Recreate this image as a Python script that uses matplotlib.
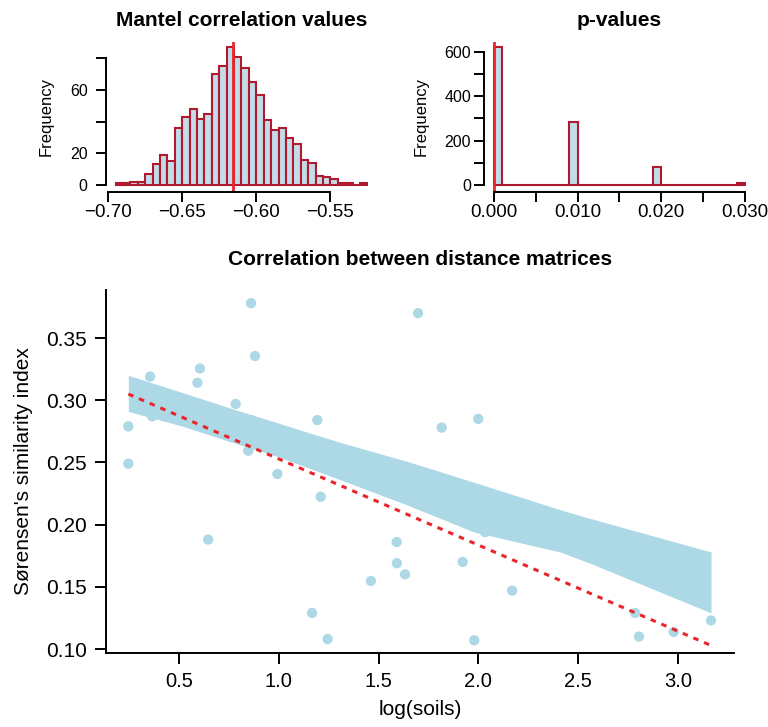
import numpy as np
import matplotlib.pyplot as plt

plt.rcParams['font.family'] = ['Liberation Sans', 'DejaVu Sans']

# histogram of Mantel r from the resamples (bins of 0.005 starting at -0.695)
mantel_start = -0.695
mantel_width = 0.005
mantel_counts = [1, 1, 2, 2, 7, 13, 19, 15, 36, 43, 48, 42, 45, 70, 75, 87, 81,
                 74, 65, 57, 41, 35, 36, 30, 26, 16, 14, 6, 5, 4, 1, 1, 0, 1]
mantel_obs = -0.616

# histogram of p-values (bins of 0.001 starting at 0)
p_start = 0.0
p_width = 0.001
p_counts = [622, 0, 0, 0, 0, 0, 0, 0, 0, 285,
            0, 0, 0, 0, 0, 0, 0, 0, 0, 82,
            0, 0, 0, 0, 0, 0, 0, 0, 0, 11]
p_obs = 0.0

# scatter: log(soils) vs Sorensen similarity
log_soils = [0.246, 0.246, 0.355, 0.365, 0.592, 0.605, 0.646, 0.784, 0.847, 0.864,
             0.861, 0.881, 0.993, 1.167, 1.193, 1.21, 1.245, 1.462, 1.591, 1.592,
             1.633, 1.698, 1.817, 1.922, 1.98, 2.0, 2.034, 2.17, 2.786, 2.806,
             2.98, 3.167]
sorensen = [0.249, 0.279, 0.319, 0.287, 0.314, 0.3255, 0.188, 0.297, 0.2594, 0.284,
            0.378, 0.3355, 0.2407, 0.129, 0.284, 0.2224, 0.108, 0.1547, 0.186, 0.169,
            0.160, 0.370, 0.278, 0.170, 0.107, 0.285, 0.194, 0.147, 0.129, 0.110,
            0.1137, 0.123]

# envelope of the bootstrapped regression lines
band_x = [0.246, 0.52, 0.77, 0.99, 1.31, 1.64, 1.98, 2.41, 2.56, 3.167]
band_upper = [0.320, 0.306, 0.293, 0.282, 0.266, 0.251, 0.234, 0.212, 0.205, 0.178]
band_lower = [0.291, 0.279, 0.266, 0.255, 0.236, 0.216, 0.194, 0.178, 0.169, 0.129]

# fitted line (observed)
fit_intercept = 0.322
fit_slope = -0.0692

bar_fill = '#C2DDE8'
bar_edge = '#B0192E'
red = '#E8262B'
pt_col = '#ADD8E6'

W, H = 768, 727
fig = plt.figure(figsize=(W / 100, H / 100), dpi=100)


def px_axes(l, t, r, b):
    return fig.add_axes([l / W, 1 - b / H, (r - l) / W, (b - t) / H])


def style(ax, fs):
    for s in ['top', 'right']:
        ax.spines[s].set_visible(False)
    for s in ['left', 'bottom']:
        ax.spines[s].set_linewidth(1.4)
    ax.tick_params(direction='out', length=7, width=1.4, labelsize=fs)


# ---- Mantel correlation values
ax1 = px_axes(105.6, 41.7, 377.4, 191.7)
left_edges = [mantel_start + i * mantel_width for i in range(len(mantel_counts))]
ax1.bar(left_edges, mantel_counts, width=mantel_width, align='edge',
        color=bar_fill, edgecolor=bar_edge, linewidth=1.5)
ax1.axvline(mantel_obs, color=red, lw=2)
ax1.set_xlim(-0.7018, -0.5182)
ax1.set_ylim(-4.2, 90.5)
style(ax1, 13.5)
ax1.set_xticks([-0.70, -0.65, -0.60, -0.55])
ax1.set_xticklabels(['\u22120.70', '\u22120.65', '\u22120.60', '\u22120.55'])
ax1.set_yticks([0, 20, 40, 60, 80])
ax1.set_yticklabels(['0', '20', '', '60', ''], fontsize=11.5)
ax1.tick_params(axis='x', pad=2)
ax1.tick_params(axis='y', pad=6)
ax1.spines['left'].set_bounds(0, 80)
ax1.spines['bottom'].set_bounds(-0.70, -0.55)
ax1.set_ylabel('Frequency', fontsize=12, labelpad=12)
ax1.set_title('Mantel correlation values', fontsize=15, fontweight='bold', pad=11)

# ---- p-values
ax2 = px_axes(483.5, 41.7, 755, 191.7)
p_edges = [p_start + i * p_width for i in range(len(p_counts))]
ax2.bar(p_edges, p_counts, width=p_width, align='edge',
        color=bar_fill, edgecolor=bar_edge, linewidth=1.5)
ax2.axvline(p_obs, color=red, lw=2)
ax2.set_xlim(-0.001255, 0.0312)
ax2.set_ylim(-30, 645)
style(ax2, 13.5)
ax2.set_xticks([0, 0.005, 0.010, 0.015, 0.020, 0.025, 0.030])
ax2.set_xticklabels(['0.000', '', '0.010', '', '0.020', '', '0.030'])
ax2.set_yticks([0, 100, 200, 300, 400, 500, 600])
ax2.set_yticklabels(['0', '', '200', '', '400', '', '600'], fontsize=11.5)
ax2.tick_params(axis='x', pad=2)
ax2.tick_params(axis='y', pad=2)
ax2.spines['left'].set_bounds(0, 600)
ax2.spines['bottom'].set_bounds(0, 0.030)
ax2.set_ylabel('Frequency', fontsize=12, labelpad=11)
ax2.set_title('p-values', fontsize=15, fontweight='bold', pad=11)

# ---- scatter with regression band
ax3 = px_axes(106, 290, 734, 653)
ax3.scatter(log_soils, sorensen, s=55, color=pt_col, edgecolors='none', zorder=2)
ax3.fill_between(band_x, band_lower, band_upper, color=pt_col, lw=0, zorder=3)
fx = np.array([min(log_soils), max(log_soils)])
ax3.plot(fx, fit_intercept + fit_slope * fx, color=red, lw=2.2,
         linestyle=(0, (1.8, 2.0)), zorder=4)
ax3.set_xlim(0.134, 3.282)
ax3.set_ylim(0.0968, 0.3886)
style(ax3, 14.5)
ax3.set_xticks([0.5, 1.0, 1.5, 2.0, 2.5, 3.0])
ax3.set_xticklabels(['0.5', '1.0', '1.5', '2.0', '2.5', '3.0'])
ax3.set_yticks([0.10, 0.15, 0.20, 0.25, 0.30, 0.35])
ax3.set_yticklabels(['0.10', '0.15', '0.20', '0.25', '0.30', '0.35'], fontsize=15)
ax3.tick_params(axis='both', length=8, pad=6)
ax3.set_xlabel('log(soils)', fontsize=15, labelpad=6)
ax3.set_ylabel("S\u00f8rensen's similarity index", fontsize=15, labelpad=9)
ax3.set_title('Correlation between distance matrices', fontsize=15,
              fontweight='bold', pad=18)

fig.savefig('out.png', dpi=100)
